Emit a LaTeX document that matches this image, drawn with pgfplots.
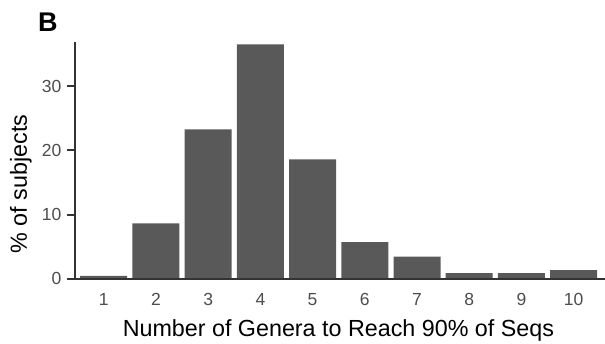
\documentclass[border=0pt]{standalone}
\usepackage{pgfplots}
\pgfplotsset{compat=1.18}
\usepackage{fontspec}
\setmainfont{Liberation Sans}
\definecolor{barc}{HTML}{595959}
\definecolor{axc}{HTML}{333333}
\definecolor{tickc}{HTML}{4D4D4D}
\begin{document}
\begin{tikzpicture}
\useasboundingbox (0,0) rectangle (605pt,343pt);
\begin{axis}[
  at={(75pt,64.5pt)}, anchor=south west,
  scale only axis, width=530pt, height=236.8pt,
  xmin=0.45, xmax=10.6, ymin=0, ymax=37,
  axis x line*=bottom, axis y line*=left,
  axis line style={axc, line width=2pt, -},
  xtick={1,...,10}, ytick={0,10,20,30},
  tick align=outside,
  major tick length=8pt,
  ytick style={axc, line width=2pt},
  xtick style={draw=none},
  tick label style={font=\fontsize{17.5}{20}\selectfont, text=tickc},
  /pgf/number format/assume math mode=true,
  yticklabel style={xshift=-2pt},
  xticklabel style={yshift=-3pt},
  ybar, bar width=0.9,
  axis on top,
  xlabel={Number of Genera to Reach 90\% of Seqs},
  xlabel style={font=\fontsize{23.3}{28}\selectfont, anchor=base, at={(axis description cs:0.497,0)}, yshift=-57.5pt},
  ylabel={\% of subjects},
  ylabel style={font=\fontsize{23.3}{28}\selectfont, anchor=base, at={(axis description cs:-0.0906,0.399)}},
]
\addplot[fill=barc, draw=none] coordinates {
(1,0.4) (2,8.6) (3,23.3) (4,36.6) (5,18.6) (6,5.7) (7,3.4) (8,0.85) (9,0.85) (10,1.3)
};
\end{axis}
\node[anchor=base west, inner sep=0, font=\fontsize{27}{31}\selectfont\bfseries] at (38pt,311.3pt) {B};
\end{tikzpicture}
\end{document}
